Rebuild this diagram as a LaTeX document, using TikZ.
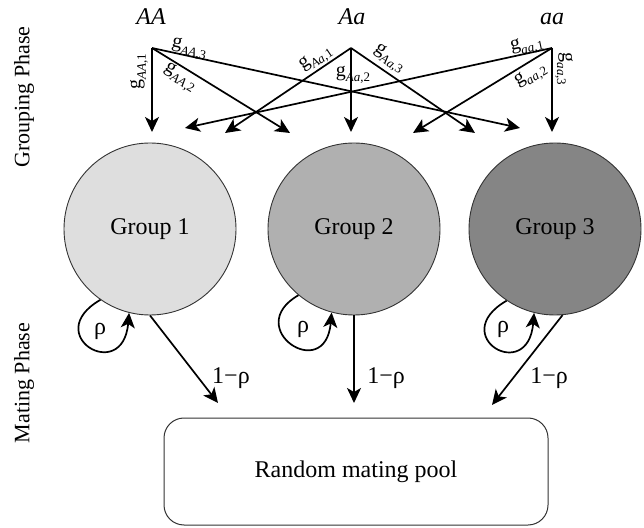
\documentclass[tikz,border=0pt]{standalone}
\usepackage{fontspec}
\setmainfont{Liberation Serif}
\usetikzlibrary{arrows.meta}
\definecolor{grpone}{RGB}{222,222,222}
\definecolor{grptwo}{RGB}{176,176,176}
\definecolor{grpthree}{RGB}{133,133,133}
% g with an italic genotype subscript
\newcommand\gl[2]{g\raisebox{-0.28em}{\fontsize{13}{13}\selectfont\textit{#1},#2}}
\begin{document}
\begin{tikzpicture}[x=1pt,y=1pt,
  arr/.style={line width=1.7pt,-{Stealth[length=15pt,width=14pt,inset=4pt]}},
  grp/.style={circle,draw=black!80,line width=0.9pt,minimum size=172pt,inner sep=0pt,
    font=\fontsize{24}{28}\selectfont},
  geno/.style={font=\fontsize{24}{28}\selectfont\itshape,anchor=base},
  glab/.style={font=\fontsize{20}{22}\selectfont,inner sep=0pt},
  phase/.style={font=\fontsize{22}{26}\selectfont,rotate=90},
  prob/.style={font=\fontsize{24}{28}\selectfont,inner sep=0pt}]
\useasboundingbox (0,0) rectangle (644,527);

% phase labels
\node[phase] (gphase) at (24,430) {Grouping Phase};
\node[phase] (mphase) at (24,144) {Mating Phase};

% genotypes
\node[geno] (AA) at (151,502) {AA};
\node[geno] (Aa) at (352,502) {Aa};
\node[geno] (aa) at (552,502) {aa};
\coordinate (sAA) at (152,479);
\coordinate (sAa) at (351,479);
\coordinate (saa) at (552,479);

% arrow ends above the groups
\coordinate (tAA1) at (152,395);
\coordinate (tAA2) at (290,394);
\coordinate (tAA3) at (520,399);
\coordinate (tAa1) at (225,394);
\coordinate (tAa2) at (351,395);
\coordinate (tAa3) at (475,394);
\coordinate (taa1) at (185,399);
\coordinate (taa2) at (413,394);
\coordinate (taa3) at (552,395);

\draw[arr] (sAA) -- (tAA1);
\draw[arr] (sAA) -- (tAA2);
\draw[arr] (sAA) -- (tAA3);
\draw[arr] (sAa) -- (tAa1);
\draw[arr] (sAa) -- (tAa2);
\draw[arr] (sAa) -- (tAa3);
\draw[arr] (saa) -- (taa1);
\draw[arr] (saa) -- (taa2);
\draw[arr] (saa) -- (taa3);

% grouping probabilities
\node[glab,rotate=90]  (lAA1) at (139,455) {\gl{AA}{1}};
\node[glab,rotate=-12] (lAA3) at (189,478) {\gl{AA}{3}};
\node[glab,rotate=-32] (lAA2) at (180,449) {\gl{AA}{2}};
\node[glab,rotate=34]  (lAa1) at (316,468) {\gl{Aa}{1}};
\node[glab]            (lAa2) at (353,452) {\gl{Aa}{2}};
\node[glab,rotate=-34] (lAa3) at (389,468) {\gl{Aa}{3}};
\node[glab,rotate=12]  (laa1) at (527,481) {\gl{aa}{1}};
\node[glab,rotate=31]  (laa2) at (531,451) {\gl{aa}{2}};
\node[glab,rotate=-90] (laa3) at (564,458) {\gl{aa}{3}};

% groups
\node[grp,fill=grpone]   (g1) at (150,298) {Group 1};
\node[grp,fill=grptwo]   (g2) at (354,298) {Group 2};
\node[grp,fill=grpthree] (g3) at (555,298) {Group 3};

% staying in the group
\draw[arr] (g1.-125) .. controls +(210:70) and +(-95:72) .. (g1.-104);
\draw[arr] (g2.-130) .. controls +(210:66) and +(-95:72) .. (g2.-105);
\draw[arr] (g3.-124) .. controls +(210:70) and +(-95:72) .. (g3.-104);
\node[prob] (r1) at (100,196) {ρ};
\node[prob] (r2) at (303,198) {ρ};
\node[prob] (r3) at (503,198) {ρ};

% moving to the mating pool
\node[draw=black!80,line width=1pt,rounded corners=20pt,minimum width=384pt,
  minimum height=107pt,font=\fontsize{24}{28}\selectfont] (pool) at (356,55.5) {Random mating pool};
\coordinate (p1) at (218,124);
\coordinate (p2) at (354,124);
\coordinate (p3) at (492,122);
\draw[arr] (g1.south) -- (p1);
\draw[arr] (g2.south) -- (p2);
\draw[arr] (g3.-85) -- (p3);
\node[prob] (q1) at (231,149) {1−ρ};
\node[prob] (q2) at (386,149) {1−ρ};
\node[prob] (q3) at (549,149) {1−ρ};
\end{tikzpicture}
\end{document}
